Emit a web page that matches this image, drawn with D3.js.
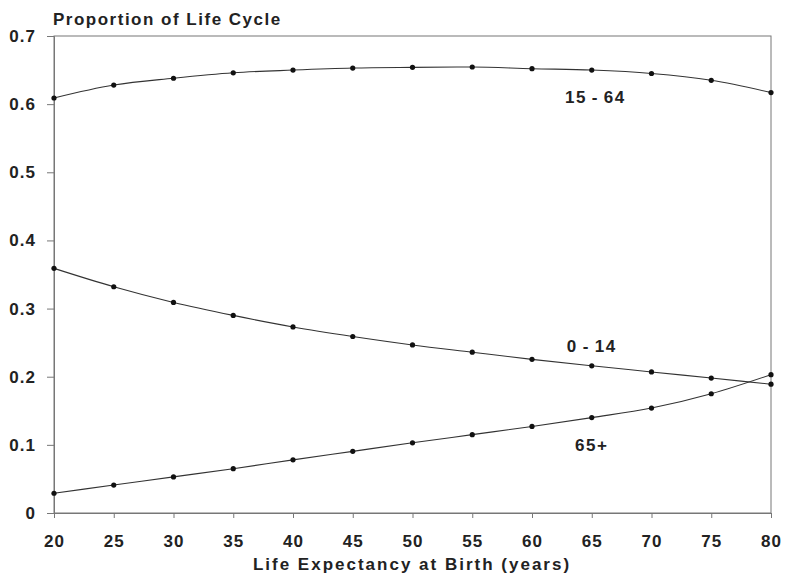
<!DOCTYPE html>
<html><head><meta charset="utf-8">
<script src="https://cdn.jsdelivr.net/npm/d3@7"></script>
<style>
body{margin:0;background:#fff;}
text{font-family:"Liberation Sans",Arial,sans-serif;font-weight:bold;fill:#222;}
</style></head>
<body><svg id="c" width="785" height="577"></svg>
<script>
const ages = [20,25,30,35,40,45,50,55,60,65,70,75,80];
const working = [0.609,0.628,0.638,0.646,0.650,0.653,0.654,0.6545,0.652,0.650,0.645,0.635,0.617];
const children = [0.359,0.332,0.309,0.290,0.273,0.259,0.2466,0.236,0.2255,0.216,0.207,0.198,0.189];
const elderly = [0.029,0.041,0.053,0.065,0.078,0.0905,0.103,0.115,0.127,0.140,0.154,0.175,0.203];
const seriesNames = ["15\u2009-\u200964","0\u2009-\u200914","65+"];
const yTicks = [0,0.1,0.2,0.3,0.4,0.5,0.6,0.7];
const xTicks = [20,25,30,35,40,45,50,55,60,65,70,75,80];

const svg = d3.select("#c");
const m = {l:54, r:14, t:36, b:64};
const W = 785, H = 577;
const x = d3.scaleLinear().domain([20,80]).range([m.l, W-m.r]);
const y = d3.scaleLinear().domain([0,0.7]).range([H-m.b, m.t]);

// frame
svg.append("rect").attr("x",m.l).attr("y",m.t).attr("width",x(80)-m.l).attr("height",y(0)-m.t)
  .attr("fill","none").attr("stroke","#777").attr("stroke-width",1);

const yAxis = svg.append("g").attr("transform",`translate(${m.l},0)`)
  .call(d3.axisLeft(y).tickValues(yTicks).tickSize(7).tickPadding(11)
    .tickFormat(d=> d===0 ? "0" : d3.format(".1f")(d)));
const xAxis = svg.append("g").attr("transform",`translate(0,${y(0)})`)
  .call(d3.axisBottom(x).tickValues(xTicks).tickSize(5).tickPadding(17));
[yAxis,xAxis].forEach(g=>{
  g.select(".domain").attr("stroke","#777");
  g.selectAll(".tick line").attr("stroke","#777");
  g.selectAll(".tick text").style("font-size","17px").style("font-weight","bold")
   .style("font-family","'Liberation Sans',Arial,sans-serif").attr("fill","#222").style("letter-spacing","1px");
});

svg.append("text").attr("x",53).attr("y",25).style("font-size","17px").style("letter-spacing","1.5px")
  .text("Proportion of Life Cycle");
svg.append("text").attr("x",(247+577)/2).attr("y",570).attr("text-anchor","middle")
  .style("font-size","17px").style("letter-spacing","2px")
  .text("Life Expectancy at Birth (years)");

const line = d3.line().x(d=>x(d[0])).y(d=>y(d[1])).curve(d3.curveMonotoneX);
const all = [working, children, elderly];
all.forEach(vals=>{
  const pts = ages.map((a,i)=>[a,vals[i]]);
  svg.append("path").datum(pts).attr("d",line).attr("fill","none").attr("stroke","#333").attr("stroke-width",1.1);
  svg.selectAll(null).data(pts).enter().append("circle")
    .attr("cx",d=>x(d[0])).attr("cy",d=>y(d[1])).attr("r",2.6).attr("fill","#111");
});

const labelPos = [[65.3,0.602],[65,0.236],[65,0.091]];
seriesNames.forEach((n,i)=>{
  svg.append("text").attr("x",x(labelPos[i][0])).attr("y",y(labelPos[i][1])).attr("text-anchor","middle")
    .style("font-size","17px").style("letter-spacing","1.5px").text(n);
});
</script></body></html>
